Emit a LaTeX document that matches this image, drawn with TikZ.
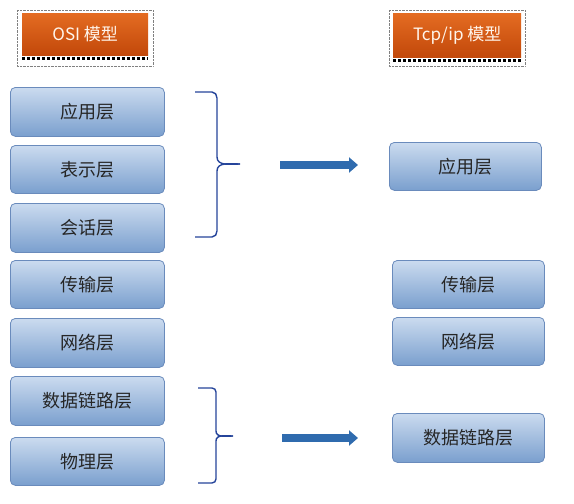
\documentclass[tikz,border=0pt]{standalone}
\usepackage{fontspec}
\newfontfamily\cjk{Noto Sans CJK SC}
\usetikzlibrary{arrows.meta}
\definecolor{boxtop}{HTML}{CBDBEF}
\definecolor{boxbot}{HTML}{7A9FCE}
\definecolor{boxline}{HTML}{6A8BBC}
\definecolor{hdtop}{HTML}{E46C22}
\definecolor{hdbot}{HTML}{C2480A}
\definecolor{brc}{HTML}{25449A}
\definecolor{arr}{HTML}{2F6BAE}
\begin{document}
\begin{tikzpicture}[x=1pt,y=-1pt,
  layer/.style={draw=boxline,line width=0.8pt,rounded corners=5pt,top color=boxtop,bottom color=boxbot,
    font=\cjk\fontsize{18}{20}\selectfont,text=black!85,inner sep=0pt,anchor=north west},
  header/.style={top color=hdtop,bottom color=hdbot,font=\cjk\fontsize{17}{20}\selectfont,text=white!92!orange,
    inner sep=0pt,anchor=north west},
  brace/.style={draw=brc,line width=1.4pt},
  bigarrow/.style={draw=arr,line width=8pt,-{Triangle[length=9pt,width=15pt]}}]
\useasboundingbox (0,0) rectangle (574,504);
% headers
\draw[densely dotted,gray] (17,10) rectangle (153,66);
\draw[densely dotted,gray] (389,10) rectangle (525,66);
\node[header,minimum width=126pt,minimum height=42pt] (osi) at (22,13) {OSI 模型};
\node[header,minimum width=128pt,minimum height=44pt] (tcp) at (393,13) {Tcp/ip 模型};
\draw[line width=3pt,dash pattern=on 3pt off 2pt] (osi.south west)++(0,3) -- ++(126,0);
\draw[line width=3pt,dash pattern=on 3pt off 2pt] (tcp.south west)++(0,3) -- ++(128,0);
% left column
\node[layer,minimum width=154pt,minimum height=49pt] (l1) at (10,87) {应用层};
\node[layer,minimum width=154pt,minimum height=48pt] (l2) at (10,145) {表示层};
\node[layer,minimum width=154pt,minimum height=49pt] (l3) at (10,203) {会话层};
\node[layer,minimum width=154pt,minimum height=48pt] (l4) at (10,260) {传输层};
\node[layer,minimum width=154pt,minimum height=49pt] (l5) at (10,318) {网络层};
\node[layer,minimum width=154pt,minimum height=49pt] (l6) at (10,376) {数据链路层};
\node[layer,minimum width=154pt,minimum height=48pt] (l7) at (10,437) {物理层};
% right column
\node[layer,minimum width=152pt,minimum height=48pt] (r1) at (389,142) {应用层};
\node[layer,minimum width=152pt,minimum height=48pt] (r2) at (392,260) {传输层};
\node[layer,minimum width=152pt,minimum height=48pt] (r3) at (392,317) {网络层};
\node[layer,minimum width=152pt,minimum height=49pt] (r4) at (392,413) {数据链路层};
% braces
\coordinate (b1t) at (195,92);
\coordinate (b1m) at (240,164);
\coordinate (b1b) at (195,237);
\draw[brace] (b1t) -- (212,92) to[out=0,in=90] (217,98) -- (217,157) to[out=-90,in=180] (b1m);
\draw[brace] (b1m) to[out=180,in=90] (217,171) -- (217,231) to[out=-90,in=0] (212,237) -- (b1b);
\coordinate (b2t) at (198,388);
\coordinate (b2m) at (233,436);
\coordinate (b2b) at (198,483);
\draw[brace] (b2t) -- (212,388) to[out=0,in=90] (216,392) -- (216,431) to[out=-90,in=180] (b2m);
\draw[brace] (b2m) to[out=180,in=90] (216,441) -- (216,479) to[out=-90,in=0] (212,483) -- (b2b);
% arrows
\coordinate (a1s) at (280,165);
\coordinate (a1e) at (358,165);
\coordinate (a2s) at (282,438);
\coordinate (a2e) at (358,438);
\draw[bigarrow] (a1s) -- (a1e);
\draw[bigarrow] (a2s) -- (a2e);
\end{tikzpicture}
\end{document}
